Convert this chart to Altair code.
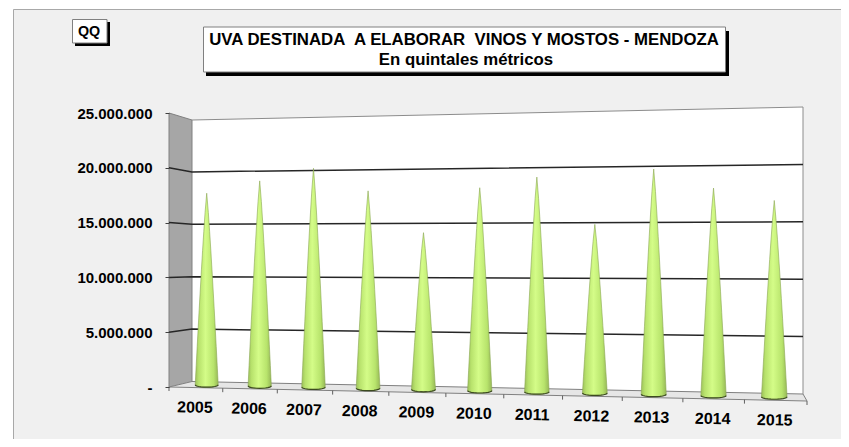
import math
import altair as alt
import pandas as pd

years = [2005, 2006, 2007, 2008, 2009, 2010, 2011, 2012, 2013, 2014, 2015]
values = [17800000, 18900000, 20000000, 17900000, 14100000, 18100000, 19000000, 14800000, 19600000, 17900000, 16800000]
grid_values = [0, 5000000, 10000000, 15000000, 20000000, 25000000]
title_1 = "UVA DESTINADA\u00a0 A ELABORAR\u00a0 VINOS Y MOSTOS - MENDOZA"
title_2 = "En quintales métricos"
unit_label = "QQ"

W, H = 833, 431
FONT = "Liberation Sans"
PX_PER_5M = 54.8
xs = alt.Scale(domain=[8, 8 + W], range=[0, W], nice=False, zero=False)
ys = alt.Scale(domain=[(387 - (8 + H)) / PX_PER_5M * 5e6, (387 - 8) / PX_PER_5M * 5e6], range=[H, 0], nice=False, zero=False)

label_expr = "datum.value == 0 ? '-\u00a0\u00a0' : replace(format(datum.value, ',d'), /,/g, '.')"
y_axis = alt.Axis(
    values=grid_values, labelExpr=label_expr, domain=False, grid=False, title=None, zindex=1,
    offset=-161, tickSize=4, tickColor="#404040", tickWidth=1, labelPadding=13,
    labelFont=FONT, labelFontWeight="bold", labelFontSize=15, labelColor="#000",
)

def V(py):
    return (387 - py) / PX_PER_5M * 5e6

def S(u, k=0.92):
    return u * k / (1 + u * (k - 1))

def lerp(a, b, t):
    return a + (b - a) * t

def P(u, d, v):
    s = S(u)
    xf, xb = lerp(169, 807, s), lerp(192, 803, s)
    yf, yb = lerp(387, 401, s), lerp(381.5, 394, s)
    pf, pb = lerp(54.8, 60, s), lerp(52.4, 57.4, s)
    return lerp(xf, xb, d), lerp(yf - v / 5e6 * pf, yb - v / 5e6 * pb, d)

def X(f):
    return alt.X(f, type="quantitative", scale=xs, axis=None, stack=None)

def Y(f):
    return alt.Y(f, type="quantitative", scale=ys, axis=y_axis, stack=None)

def chrome_rect(x0, x1, y0, y1, fill, stroke=None):
    kw = {"stroke": stroke, "strokeWidth": 1} if stroke else {}
    d = pd.DataFrame({"a": [x0], "b": [x1], "c": [V(y0)], "e": [V(y1)]})
    return alt.Chart(d).mark_rect(fill=fill, **kw).encode(x=X("a"), x2="b", y=Y("c"), y2="e")

def seg_line(points, color, width):
    d = pd.DataFrame([{"x": x, "y": V(y), "k": i} for i, (x, y) in enumerate(points)])
    return alt.Chart(d).mark_line(color=color, strokeWidth=width).encode(x=X("x"), y=Y("y"), order="k:Q")

def poly_area(rows, fill):
    d = pd.DataFrame([{"x": x, "y": V(a), "y2": V(b)} for x, a, b in rows])
    return alt.Chart(d).mark_area(fill=fill, opacity=1).encode(x=X("x"), y=Y("y"), y2="y2")

def text(x, y, s, size, **kw):
    d = pd.DataFrame({"x": [x], "y": [V(y)], "t": [s]})
    return alt.Chart(d).mark_text(font=FONT, fontWeight="bold", fontSize=size, color="#000", **kw).encode(x=X("x"), y=Y("y"), text="t:N")

layers = []
# panel
layers.append(chrome_rect(13, 8 + W, 9, 8 + H, "#f0f0f0"))
layers.append(seg_line([(13.5, 8 + H), (13.5, 9.5), (8 + W, 9.5)], "#a8a8a8", 1))
# unit box
layers.append(chrome_rect(75, 110, 22, 46, "#000"))
layers.append(chrome_rect(72.5, 107, 19.5, 43, "#fff", "#808080"))
layers.append(text(89, 32, unit_label, 14.3, align="center", baseline="middle"))
# title box
layers.append(chrome_rect(206, 729, 31, 76, "#000"))
layers.append(chrome_rect(203.5, 725.5, 27, 72, "#fff", "#808080"))
layers.append(text(464, 40, title_1, 16.8, align="center", baseline="middle"))
layers.append(text(466, 60, title_2, 16.8, align="center", baseline="middle"))

# walls and floor
layers.append(poly_area([(169, 113, 387), (192, 120, 381.5)], "#a6a6a6"))
layers.append(poly_area([(192, 120, 381.5), (803, 107, 394)], "#ffffff"))
layers.append(poly_area([(169, 387, 387), (192, 381.5, 387.5), (803, 394, 401), (807, 401, 401)], "#e6e6e6"))
layers.append(seg_line([(169, 113), (169, 387), (807, 401), (803, 394), (192, 381.5), (169, 387)], "#808080", 1))
layers.append(seg_line([(169, 113), (192, 120), (192, 381.5)], "#808080", 1))
layers.append(seg_line([(192, 120), (803, 107), (803, 394)], "#8c8c8c", 1))

# grid
for v in grid_values[1:5]:
    p0 = (169, 387 - v / 5e6 * 54.8)
    p1 = P(0, 1, v)
    p2 = P(1, 1, v)
    layers.append(seg_line([p0, p1, p2], "#262626", 1.5))

# x ticks along the front edge
ticks = []
for i in range(12):
    x, y = P(i / 11, 0, 0)
    ticks.append({"x": x, "a": V(y), "b": V(y + 4)})
layers.append(alt.Chart(pd.DataFrame(ticks)).mark_rule(color="#606060", strokeWidth=1).encode(x=X("x"), y=Y("a"), y2="b"))

# cones
grad = alt.Gradient(
    gradient="linear", x1=0, x2=1, y1=0, y2=0,
    stops=[
        alt.GradientStop(offset=0, color="#9cc05a"),
        alt.GradientStop(offset=0.15, color="#b8e26c"),
        alt.GradientStop(offset=0.45, color="#d4fc88"),
        alt.GradientStop(offset=0.8, color="#b8e46c"),
        alt.GradientStop(offset=1, color="#96b856"),
    ],
)
rows, arcs = [], []
for i, (yr, val) in enumerate(zip(years, values)):
    u = (i + 0.5) / 11
    cx, base = P(u, 0.5, 0)
    _, top = P(u, 0.5, val)
    w = 11.5 + 1.3 * i / 10
    b = 2.4
    for j in range(0, 11):
        t = j / 10
        hw = w * t ** 0.85
        rows.append({"year": yr, "y": V(lerp(top, base, t)), "xa": cx - hw, "xb": cx + hw})
    for j in range(1, 7):
        t = j / 6 * math.pi / 2
        dw, dy = w * math.cos(t), b * math.sin(t)
        rows.append({"year": yr, "y": V(base + dy), "xa": cx - dw, "xb": cx + dw})
    for j in range(-6, 7):
        t = j / 6 * math.pi / 2
        arcs.append({"year": yr, "k": j, "y": V(base + b * math.cos(t)), "x": cx + w * math.sin(t)})
layers.append(
    alt.Chart(pd.DataFrame(rows))
    .mark_area(orient="horizontal", fill=grad, stroke="#8aa653", strokeWidth=0.6, opacity=1)
    .encode(y=Y("y"), x=X("xa"), x2="xb", detail="year:N")
)
layers.append(
    alt.Chart(pd.DataFrame(arcs))
    .mark_line(color="#3c4a20", strokeWidth=1.2)
    .encode(x=X("x"), y=Y("y"), detail="year:N", order="k:Q")
)

# x labels
lab = []
for i, yr in enumerate(years):
    x0, y0 = P(i / 11, 0, 0)
    x1, y1 = P((i + 1) / 11, 0, 0)
    lab.append({"x": (x0 + x1) / 2 - 1, "y": V((y0 + y1) / 2 + 20), "t": str(yr)})
layers.append(
    alt.Chart(pd.DataFrame(lab))
    .mark_text(font=FONT, fontWeight="bold", fontSize=16, color="#000", angle=1, align="center", baseline="middle")
    .encode(x=X("x"), y=Y("y"), text="t:N")
)

chart = (
    alt.layer(*layers)
    .properties(width=W, height=H, padding=0, background="#ffffff", autosize=alt.AutoSizeParams(type="none"))
    .configure_view(stroke=None)
)
chart.save("out.html", embed_options={"renderer": "svg", "actions": False})
